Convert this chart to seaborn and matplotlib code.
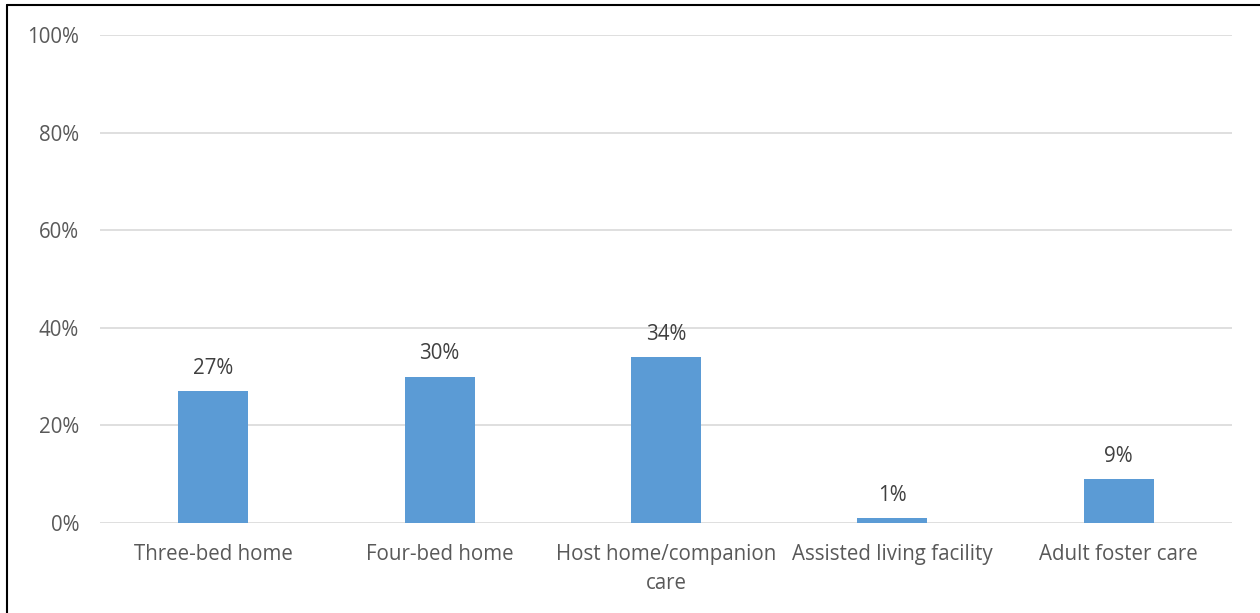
import matplotlib
matplotlib.use("Agg")
import matplotlib.pyplot as plt
from matplotlib.lines import Line2D
from matplotlib.ticker import FuncFormatter
import seaborn as sns
import pandas as pd

categories = ["Three-bed home", "Four-bed home", "Host home/companion\ncare",
              "Assisted living facility", "Adult foster care"]
shares = [27, 30, 34, 1, 9]
y_ticks = [0, 20, 40, 60, 80, 100]

sns.set_theme(style="white")
plt.rcParams["font.family"] = ["Open Sans", "DejaVu Sans"]

df = pd.DataFrame({"category": categories, "share": shares})

fig = plt.figure(figsize=(12.6, 6.13), dpi=100)
ax = fig.add_axes([100 / 1260, 90 / 613, 1132 / 1260, 488 / 613])

sns.barplot(data=df, x="category", y="share", color="#5B9BD5",
            width=0.31, saturation=1, linewidth=0, ax=ax, zorder=3)

ax.set_ylim(0, 100)
ax.set_yticks(y_ticks)
ax.yaxis.set_major_formatter(FuncFormatter(lambda v, _: f"{v:.0f}%"))
ax.grid(axis="y", color="#D9D9D9", linewidth=1.2, zorder=0)
ax.set_axisbelow(True)
for s in ax.spines.values():
    s.set_visible(False)
ax.set_xlabel("")
ax.set_ylabel("")
ax.tick_params(axis="both", length=0, labelsize=14.8, labelcolor="#595959")
ax.tick_params(axis="y", pad=15)
ax.tick_params(axis="x", pad=15)
for lbl in ax.get_xticklabels():
    lbl.set_linespacing(1.5)

for i, v in enumerate(shares):
    ax.annotate(f"{v}%", xy=(i, v), xytext=(0, 9), textcoords="offset points",
                ha="center", va="bottom", fontsize=14.8, color="#404040")

# Frame lines along the left and top edges of the figure
fig.add_artist(Line2D([7 / 1260, 7 / 1260], [0, 1 - 5 / 613], transform=fig.transFigure,
                      color="black", linewidth=1.5))
fig.add_artist(Line2D([7 / 1260, 1], [1 - 5 / 613, 1 - 5 / 613], transform=fig.transFigure,
                      color="black", linewidth=1.5))

fig.savefig("out.png", dpi=100)
